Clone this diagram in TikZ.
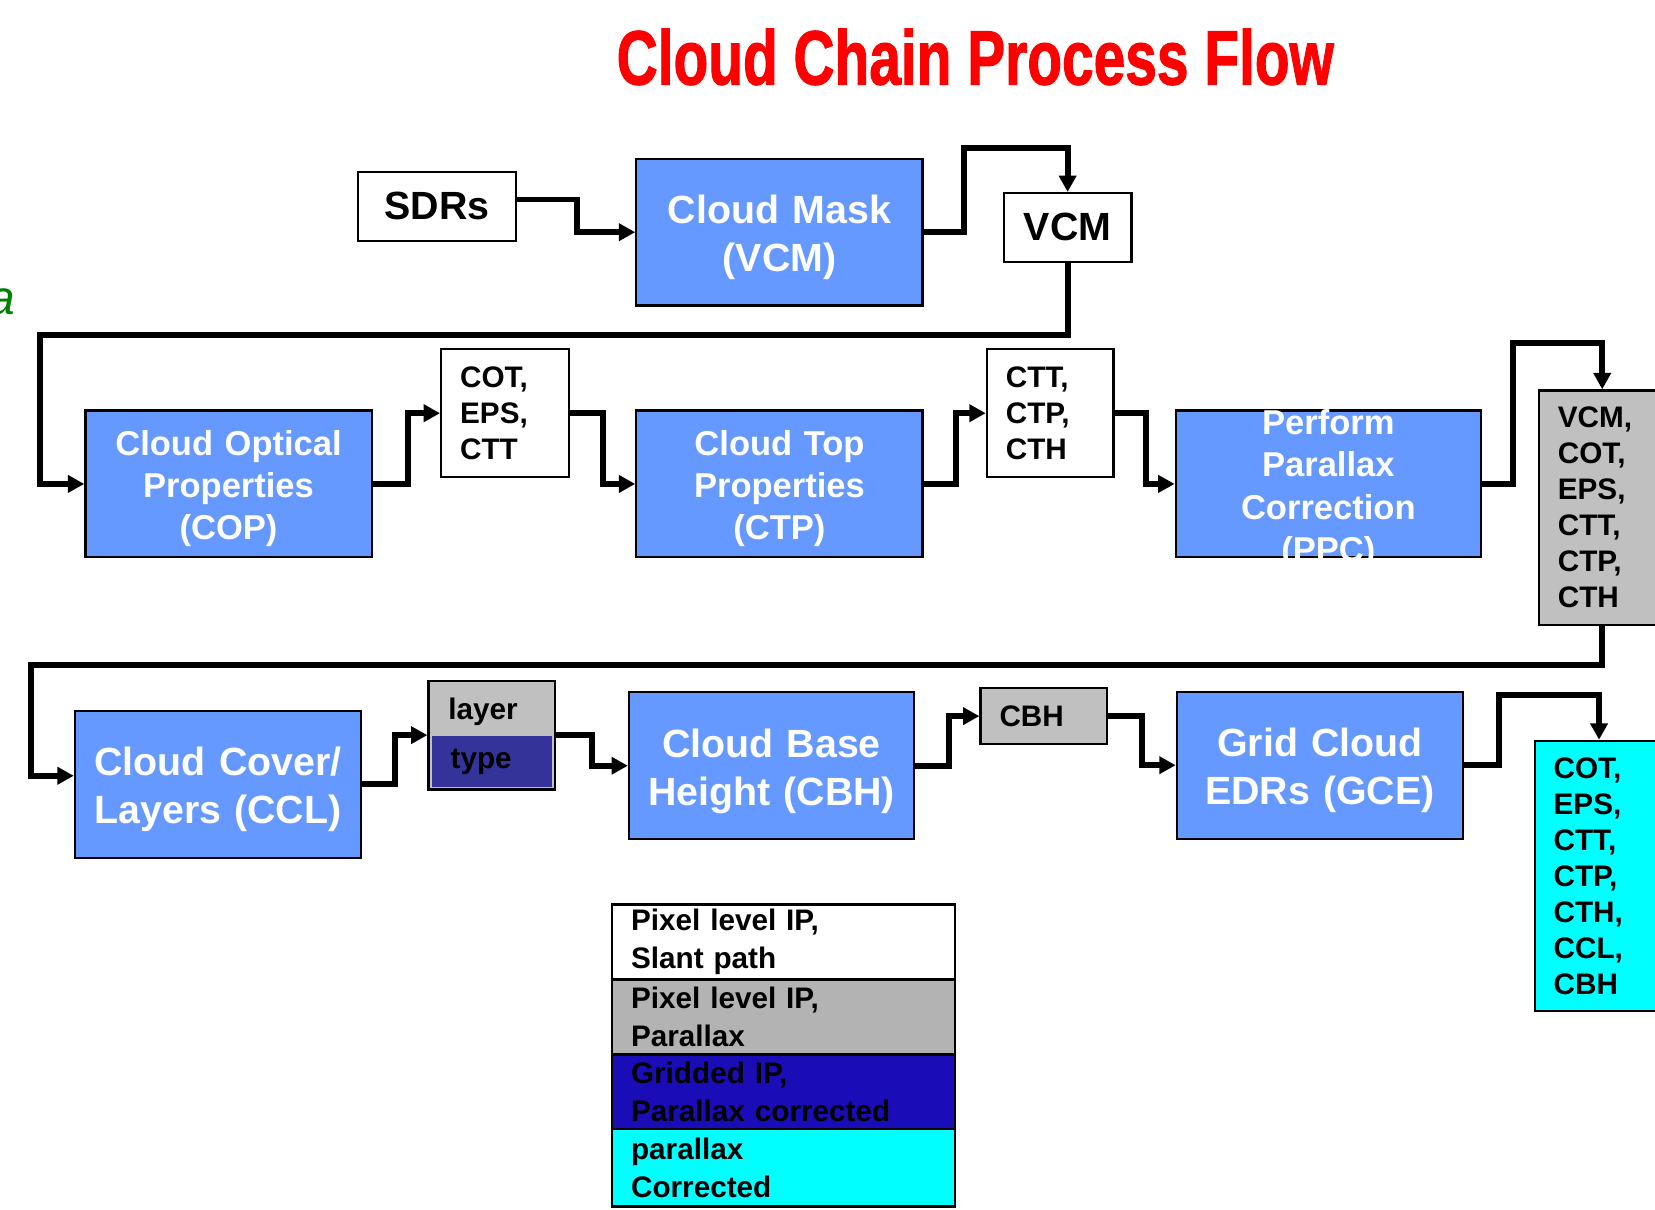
\documentclass[tikz,border=0pt]{standalone}
\usepackage{graphicx}
\usepackage{fontspec}
\setmainfont{Liberation Sans}
\newfontfamily\headfont[FakeBold=1.6]{Liberation Sans Bold}
\usetikzlibrary{arrows.meta, calc}

\definecolor{procblue}{HTML}{6699FF}
\definecolor{listgray}{HTML}{C0C0C0}
\definecolor{keygray}{HTML}{B3B3B3}
\definecolor{typeblue}{HTML}{333399}
\definecolor{keyblue}{HTML}{1A0DB8}
\definecolor{outcyan}{HTML}{00FFFF}
\definecolor{titlered}{HTML}{FF0000}
\definecolor{notegreen}{HTML}{008000}

\begin{document}
\begin{tikzpicture}[x=0.01cm, y=-0.01cm, line join=miter,
    proc/.style={draw=black, line width=0.6pt, fill=procblue, text=white, align=center,
        inner sep=0pt, minimum width=2.71cm, minimum height=1.39cm, text width=2.6cm},
    big/.style={font=\bfseries\fontsize{10.6}{12.9}\selectfont, execute at begin node={\rule{0pt}{1em}}},
    med/.style={font=\bfseries\fontsize{9.3}{11.4}\selectfont, execute at begin node={\rule{0pt}{1em}}},
    list/.style={draw=black, line width=0.6pt, fill=white, align=left, inner xsep=0.18cm,
        inner ysep=0pt, font=\bfseries\fontsize{8}{9.7}\selectfont},
    key/.style={draw=black, line width=0.6pt, align=left, inner xsep=0.18cm, inner ysep=0pt,
        text width=2.89cm, minimum height=0.71cm, font=\bfseries\fontsize{8}{10.1}\selectfont},
    flow/.style={line width=1.6pt, -{Triangle[length=0.155cm,width=0.16cm]}}]

    \useasboundingbox (0,0) rectangle (1568,1146);

    % heading
    \node[text=titlered, font=\headfont\fontsize{20.7}{24}\selectfont] (title) at (924,54)
        {\scalebox{0.74}[1]{Cloud Chain Process Flow}};
    \node[text=notegreen, font=\itshape\fontsize{12.9}{15}\selectfont, anchor=base west, inner sep=0pt]
        (note) at (-12,298) {a};

    %--- first row: cloud mask
    \node[list, font=\bfseries\fontsize{10.6}{12.9}\selectfont, minimum width=1.50cm, minimum height=0.65cm] (sdr) at (414,195.5) {SDRs};
    \node[proc, big] (mask) at (738.5,220) {Cloud Mask\\(VCM)};
    \node[list, font=\bfseries\fontsize{10.6}{12.9}\selectfont, minimum width=1.21cm, minimum height=0.65cm] (vcm) at (1011.5,215.5) {VCM};

    %--- second row: optical and top properties, parallax
    \node[proc, med] (cop) at (216.5,458.5) {Cloud Optical\\Properties\\(COP)};
    \node[list, text width=0.85cm, minimum height=1.21cm] (cot) at (478.5,391.5) {COT,\\EPS,\\CTT};
    \node[proc, med] (ctp) at (738.5,458.5) {Cloud Top\\Properties\\(CTP)};
    \node[list, text width=0.84cm, minimum height=1.21cm] (cth) at (995,391.5) {CTT,\\CTP,\\CTH};
    \node[proc, minimum width=2.89cm] (ppc) at (1258.5,458.5) {};
    \node[text=white, align=center, inner sep=0pt, font=\bfseries\fontsize{9.3}{11.4}\selectfont]
        (ppctext) at ([yshift=-0.05cm]ppc.center) {Perform\\Parallax\\Correction\\(PPC)};
    \node[list, fill=listgray, text width=0.84cm, minimum height=2.22cm] (pix) at (1518,481)
        {VCM,\\COT,\\EPS,\\CTT,\\CTP,\\CTH};

    %--- third row: cover/layers, base height, gridding
    \node[proc, big] (ccl) at (206.5,743) {Cloud Cover/\\Layers (CCL)};
    \node[list, fill=listgray, minimum width=1.20cm, minimum height=1.03cm] (lt) at (466,696.5) {};
    \node[font=\bfseries\fontsize{8}{9.7}\selectfont, inner sep=0pt, anchor=west] (layer) at (424,674) {layer};
    \node[fill=typeblue, align=left, inner xsep=0.18cm, inner ysep=0pt, text width=0.78cm,
        minimum height=0.49cm, font=\bfseries\fontsize{8}{9.7}\selectfont] (type) at (466,721.5) {type};
    \node[proc, big, minimum width=2.70cm] (cbh) at (731,725.5) {Cloud Base\\Height (CBH)};
    \node[list, fill=listgray, text width=0.84cm, minimum height=0.53cm] (cbhout) at (989,678.5) {CBH};
    \node[proc, big] (gce) at (1250.5,725) {Grid Cloud\\EDRs (GCE)};
    \node[list, fill=outcyan, text width=0.86cm, minimum height=2.56cm] (edr) at (1515,830)
        {COT,\\EPS,\\CTT,\\CTP,\\CTH,\\CCL,\\CBH};

    %--- key
    \node[key, fill=white] (key1) at (742.5,892.5) {Pixel level IP,\\Slant path};
    \node[key, fill=keygray] (key2) at (742.5,963.5) {Pixel level IP,\\Parallax};
    \node[key, fill=keyblue] (key3) at (742.5,1034.5) {Gridded IP,\\Parallax corrected};
    \node[key, fill=outcyan, minimum height=0.73cm] (key4) at (742.5,1106.5) {parallax\\Corrected};

    %--- flow lines
    \draw[flow] ([yshift=0.065cm]sdr.east) -- ++(57,0) |- (mask.west);
    \draw[flow] (mask.east) -- ++(38,0) |- ($(vcm.north)+(0,-42)$) -- (vcm.north);
    \draw[flow] (vcm.south) -- ++(0,68) -- ++(-974,0) |- (cop.west);
    \draw[flow] (cop.east) -- ++(33,0) |- (cot.west);
    \draw[flow] (cot.east) -- ++(31,0) |- (ctp.west);
    \draw[flow] (ctp.east) -- ++(31,0) |- (cth.west);
    \draw[flow] (cth.east) -- ++(30,0) |- (ppc.west);
    \draw[flow] (ppc.east) -- ++(29,0) |- ($(pix.north)+(0,-44)$) -- (pix.north);
    \draw[flow] (pix.south) -- ++(0,37) -- ++(-1489,0) |- ([yshift=0.08cm]ccl.west);
    \draw[flow] (ccl.east) -- ++(31,0) |- (lt.west);
    \draw[flow] (lt.east) -- ++(34,0) |- (cbh.west);
    \draw[flow] (cbh.east) -- ++(32,0) |- (cbhout.west);
    \draw[flow] (cbhout.east) -- ++(32,0) |- (gce.west);
    \draw[flow] (gce.east) -- ++(33,0) |- ($(edr.north)+(0,-42)$) -- (edr.north);

\end{tikzpicture}
\end{document}
